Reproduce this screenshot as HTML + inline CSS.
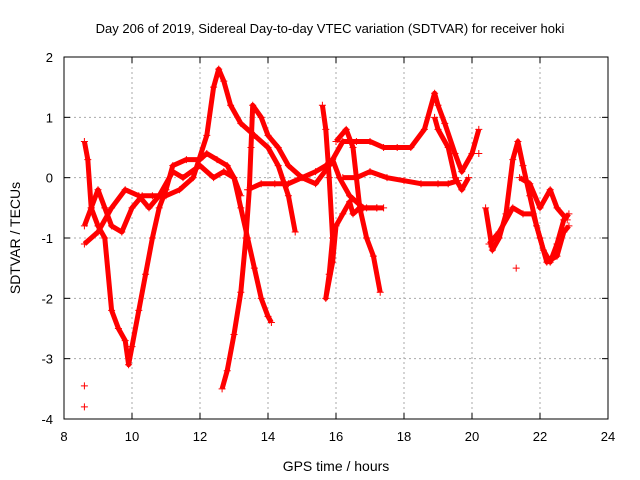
<!DOCTYPE html>
<html><head><meta charset="utf-8"><style>
body{margin:0;background:#fff}
svg{display:block;font-family:"Liberation Sans",sans-serif}
</style></head><body>
<svg id="c" width="640" height="480">
<text x="330" y="33" text-anchor="middle" font-size="13">Day 206 of 2019, Sidereal Day-to-day VTEC variation (SDTVAR) for receiver hoki</text>
<text x="336" y="471" text-anchor="middle" font-size="14">GPS time / hours</text>
<text transform="translate(20,238) rotate(-90)" text-anchor="middle" font-size="14">SDTVAR / TECUs</text>
<g id="grid"></g><g id="ticks"></g><g id="marks"></g>
<rect x="64" y="57" width="544" height="362" fill="none" stroke="#000"/>
</svg>
<script>
const xTicks=[8,10,12,14,16,18,20,22,24];
const yTicks=[2,1,0,-1,-2,-3,-4];
const trackA=[[8.6,0.6],[8.7,0.3],[8.8,-0.5],[9.0,-0.8],[9.2,-1.0],[9.4,-2.2],[9.6,-2.5],[9.8,-2.7],[9.9,-3.1],[10.0,-2.8],[10.2,-2.2],[10.4,-1.6],[10.6,-1.0],[10.8,-0.5],[11.0,-0.2],[11.2,0.2],[11.6,0.3],[12.0,0.3],[12.2,0.4],[12.5,0.3],[12.8,0.2],[13.0,0.0],[13.2,-0.5],[13.4,-1.0],[13.6,-1.5],[13.8,-2.0],[14.0,-2.3],[14.1,-2.4]];
const trackB=[[8.6,-0.8],[8.8,-0.5],[9.0,-0.2],[9.2,-0.5],[9.4,-0.8],[9.7,-0.9],[10.0,-0.5],[10.3,-0.3],[10.6,-0.3],[11.0,-0.3],[11.4,-0.2],[11.8,0.0],[12.2,0.7],[12.4,1.5],[12.55,1.8],[12.7,1.6],[12.9,1.2],[13.2,0.9],[13.6,0.7],[14.0,0.5],[14.3,0.2],[14.6,-0.3],[14.8,-0.9]];
const trackC=[[8.6,-1.1],[9.0,-0.9],[9.4,-0.5],[9.8,-0.2],[10.2,-0.3],[10.5,-0.5],[10.8,-0.3],[11.2,0.1],[11.5,0.0],[12.0,0.2],[12.4,0.0],[12.7,0.1],[13.0,0.0],[13.2,-0.3]];
const trackD=[[12.65,-3.5],[12.8,-3.2],[13.0,-2.6],[13.2,-1.9],[13.35,-1.0],[13.45,-0.2],[13.5,0.5],[13.55,1.2],[13.8,1.0],[14.0,0.7],[14.3,0.5],[14.6,0.2],[15.0,0.0],[15.4,-0.1],[15.8,0.2],[16.2,0.6],[16.6,0.6],[17.0,0.6],[17.4,0.5],[17.8,0.5],[18.2,0.5],[18.6,0.8],[18.9,1.4],[19.0,1.2],[19.2,0.9],[19.5,0.4],[19.7,0.1],[20.0,0.4],[20.2,0.8]];
const trackE=[[13.4,-0.2],[13.8,-0.1],[14.2,-0.1],[14.6,-0.1],[15.0,0.0],[15.4,0.1],[15.7,0.2],[15.9,0.3],[16.1,0.0],[16.4,-0.3],[16.8,-0.5],[17.2,-0.5]];
const trackF=[[15.6,1.2],[15.7,0.8],[15.8,0.0],[15.9,-1.0],[15.8,-1.6],[15.7,-2.0],[15.9,-1.4],[16.0,-0.8],[16.2,-0.6],[16.4,-0.4],[16.5,-0.6],[16.7,-0.5],[16.9,-0.5],[17.2,-0.5],[17.4,-0.5]];
const trackG=[[16.0,0.6],[16.3,0.8],[16.5,0.5],[16.6,0.0],[16.7,-0.5],[16.9,-1.0],[17.1,-1.3],[17.3,-1.9]];
const trackH=[[16.2,0.0],[16.6,0.0],[17.0,0.1],[17.5,0.0],[18.0,-0.05],[18.5,-0.1],[19.0,-0.1],[19.3,-0.1],[19.6,-0.05]];
const trackI=[[18.9,1.0],[19.0,0.8],[19.3,0.5],[19.5,0.0],[19.7,-0.2],[19.9,0.0]];
const trackJ=[[20.4,-0.5],[20.6,-1.2],[20.8,-1.0],[21.0,-0.6],[21.2,0.3],[21.35,0.6],[21.5,0.2],[21.7,-0.3],[21.9,-0.8],[22.1,-1.2],[22.3,-1.4],[22.5,-1.1],[22.7,-0.7],[22.85,-0.6]];
const trackK=[[20.5,-1.1],[20.8,-0.9],[21.2,-0.5],[21.5,-0.6],[21.8,-0.6],[22.0,-1.0],[22.2,-1.4],[22.5,-1.3],[22.7,-0.9],[22.85,-0.8]];
const trackL=[[21.4,0.0],[21.7,-0.1],[22.0,-0.5],[22.3,-0.2],[22.5,-0.5],[22.8,-0.7]];
const isolated=[[8.6,-3.45],[8.6,-3.8],[20.2,0.4],[21.3,-1.5]];
const tracks=[trackA,trackB,trackC,trackD,trackE,trackF,trackG,trackH,trackI,trackJ,trackK,trackL];

const NS="http://www.w3.org/2000/svg";
const X=v=>64+(v-8)*544/16;
const Y=v=>57+(2-v)*362/6;
function mk(t,a,p){const e=document.createElementNS(NS,t);for(const k in a)e.setAttribute(k,a[k]);p.appendChild(e);return e;}
const grid=document.getElementById('grid'),ticks=document.getElementById('ticks'),marks=document.getElementById('marks');
xTicks.forEach(v=>{
  if(v>8&&v<24){const l=mk('line',{x1:X(v),x2:X(v),y1:57,y2:419,stroke:'#aaa','stroke-dasharray':'2,3'},grid);
  
  }
  mk('line',{x1:X(v),x2:X(v),y1:419,y2:413,stroke:'#000'},ticks);
  mk('line',{x1:X(v),x2:X(v),y1:57,y2:63,stroke:'#000'},ticks);
  const t=mk('text',{x:X(v),y:441,'text-anchor':'middle','font-size':13},ticks);t.textContent=v;
  
  
});
yTicks.forEach(v=>{
  if(v<2&&v>-4){const l=mk('line',{x1:64,x2:608,y1:Y(v),y2:Y(v),stroke:'#aaa','stroke-dasharray':'2,3'},grid);
  
  }
  mk('line',{x1:64,x2:70,y1:Y(v),y2:Y(v),stroke:'#000'},ticks);
  mk('line',{x1:608,x2:602,y1:Y(v),y2:Y(v),stroke:'#000'},ticks);
  const t=mk('text',{x:53,y:Y(v)+5,'text-anchor':'end','font-size':13},ticks);t.textContent=v;
  
  
});
function plus(x,y,g){mk('path',{d:`M${x-3.5},${y}h7M${x},${y-3.5}v7`,stroke:'#f00','stroke-width':1,fill:'none'},g);}
tracks.forEach((tr,i)=>{
  const g=mk('g',{},marks);
  
  
  mk('polyline',{points:tr.map(p=>X(p[0])+','+Y(p[1])).join(' '),fill:'none',stroke:'#f00','stroke-width':5,'stroke-linejoin':'round'},g);
  tr.forEach(p=>plus(X(p[0]),Y(p[1]),g));
});
const gi=mk('g',{},marks);


isolated.forEach(p=>plus(X(p[0]),Y(p[1]),gi));
</script>
</body></html>
